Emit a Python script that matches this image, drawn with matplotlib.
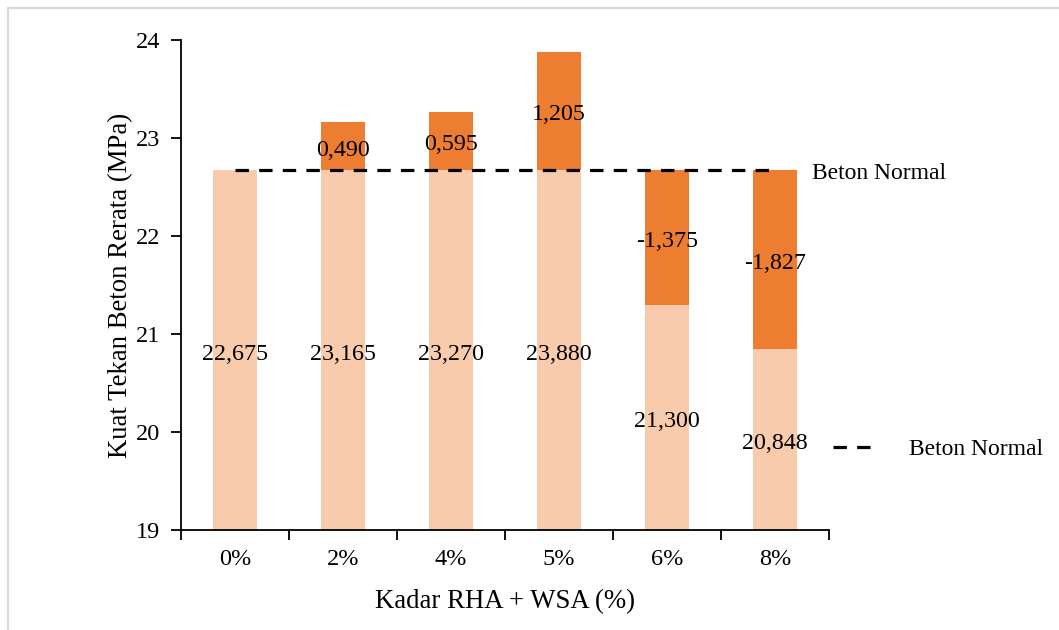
import matplotlib
matplotlib.use("Agg")
import matplotlib.pyplot as plt
from matplotlib.lines import Line2D

categories = ["0%", "2%", "4%", "5%", "6%", "8%"]
values = [22.675, 23.165, 23.270, 23.880, 21.300, 20.848]
normal = [22.675, 22.675, 22.675, 22.675, 22.675, 22.675]
diffs = [0.0, 0.490, 0.595, 1.205, -1.375, -1.827]
value_labels = ["22,675", "23,165", "23,270", "23,880", "21,300", "20,848"]
diff_labels = ["", "0,490", "0,595", "1,205", "-1,375", "-1,827"]

ymin = 19
light = "#F8CBAD"
orange = "#ED7D31"

plt.rcParams['font.family'] = ['Liberation Serif', 'DejaVu Serif']

fig = plt.figure(figsize=(10.59, 6.3), dpi=100)
ax = fig.add_axes([181/1059, 1-530/630, 648/1059, 490/630])

x = list(range(len(categories)))
base_h = [min(v, n) - ymin for v, n in zip(values, normal)]
top_h = [abs(d) for d in diffs]
bw = 0.41
ax.bar(x, base_h, bottom=ymin, width=bw, color=light, zorder=2)
tops = [ymin + b for b in base_h]
ax.bar(x, top_h, bottom=tops, width=bw, color=orange, zorder=2)

fs = 17.3
for i in x:
    ax.annotate(value_labels[i], xy=(i, ymin + base_h[i] / 2), xytext=(0, -3), textcoords='offset points',
                ha='center', va='center', fontsize=fs, zorder=5)
    if diff_labels[i]:
        ax.annotate(diff_labels[i], xy=(i, tops[i] + top_h[i] / 2), xytext=(0, -3), textcoords='offset points',
                    ha='center', va='center', fontsize=fs, zorder=5)

ln, = ax.plot(x, normal, color='black', lw=2.3, dashes=(4.2, 3.2), zorder=4, label='Beton Normal')
ax.annotate('Beton Normal', xy=(x[-1], normal[-1]), xytext=(27, -2.5), textcoords='offset points',
            ha='left', va='center', fontsize=17, annotation_clip=False)

ax.set_xlim(-0.5, 5.5)
ax.set_ylim(19, 24)
ax.set_yticks([19, 20, 21, 22, 23, 24])
ax.set_xticks(x)
ax.set_xticklabels(categories)
ax.set_xticks([i - 0.5 for i in range(len(categories) + 1)], minor=True)
ax.tick_params(axis='x', which='major', length=0, labelsize=17.5, pad=13.5)
ax.tick_params(axis='x', which='minor', length=7, width=1.3, direction='out')
ax.tick_params(axis='y', length=7, width=1.3, direction='out', labelsize=17.5, pad=8)
for s in ['top', 'right']:
    ax.spines[s].set_visible(False)
for s in ['left', 'bottom']:
    ax.spines[s].set_linewidth(1.3)
ax.set_xlabel('Kadar RHA + WSA (%)', fontsize=19.3, labelpad=14)
ax.set_ylabel('Kuat Tekan Beton Rerata (MPa)', fontsize=19.3, labelpad=1.5)

leg = ax.legend(handles=[ln], loc='center left', bbox_to_anchor=(833/1059, 1-449/630),
                bbox_transform=fig.transFigure, frameon=False, fontsize=17,
                handlelength=1.6, handletextpad=1.6, borderpad=0, borderaxespad=0)

# outer frame
fig.add_artist(Line2D([8/1059, 8/1059], [0, 1-8/630], transform=fig.transFigure, color='#D9D9D9', lw=1.5))
fig.add_artist(Line2D([8/1059, 1], [1-8/630, 1-8/630], transform=fig.transFigure, color='#D9D9D9', lw=1.5))

fig.savefig('out.png', dpi=100)
